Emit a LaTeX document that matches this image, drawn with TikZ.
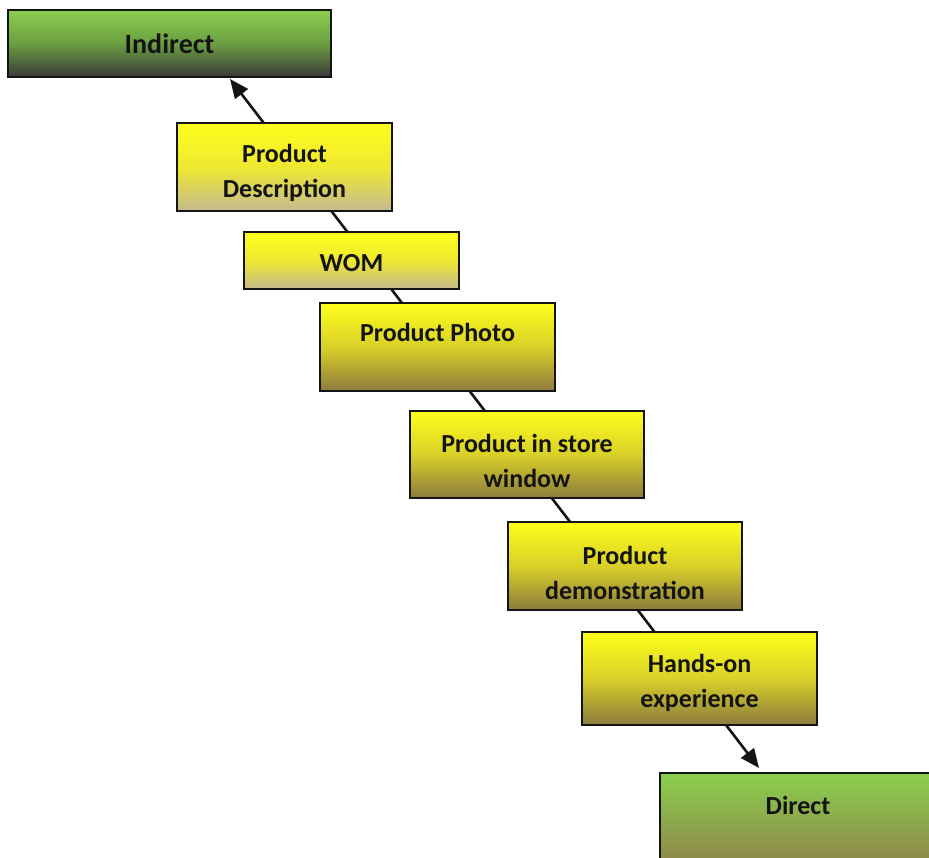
\documentclass[tikz,border=0pt]{standalone}
\usepackage{fontspec}
\setmainfont{Carlito}
\usetikzlibrary{arrows.meta,backgrounds}

\definecolor{inkdark}{HTML}{141414}
\definecolor{boxyellow}{HTML}{FFFF1C}
\definecolor{yellowmid}{HTML}{EEE830}
\definecolor{tanpale}{HTML}{C4BA90}
\definecolor{olive}{HTML}{8C7B3E}
\definecolor{olivemid}{HTML}{D9D028}
\definecolor{leafgreen}{HTML}{8BCF4E}
\definecolor{greenmid}{HTML}{6B9E42}
\definecolor{greendark}{HTML}{3A3A3A}
\definecolor{greenolive}{HTML}{8F7F4A}

\tikzset{
  boxbase/.style={draw=inkdark, line width=2pt, rectangle, inner sep=0pt},
  palebox/.style={boxbase, top color=boxyellow, bottom color=tanpale, middle color=yellowmid},
  olivebox/.style={boxbase, top color=boxyellow, bottom color=olive, middle color=olivemid},
  boxtext/.style={text=inkdark, inner sep=0pt, align=center,
    font=\bfseries\fontsize{26}{35}\selectfont},
  axisline/.style={line width=2.6pt, draw=inkdark,
    {Triangle[length=19pt,width=16pt]}-{Triangle[length=19pt,width=16pt]}}
}

\begin{document}
\begin{tikzpicture}[x=1pt,y=-1pt]
  \useasboundingbox (0,0) rectangle (929,858);

  % end points of the scale
  \node[boxbase, top color=leafgreen, bottom color=greendark, middle color=greenmid,
        minimum width=323pt, minimum height=67pt] (ind) at (169.5,43.5) {};
  \node[boxtext, font=\bfseries\fontsize{28}{35}\selectfont] (indtext) at (ind.center) {Indirect};
  \node[boxbase, top color=leafgreen, bottom color=greenolive,
        minimum width=280pt, minimum height=100pt] (dir) at (800,823) {};
  \node[boxtext] (dirtext) at (798,805) {Direct};

  % steps between them
  \node[palebox, minimum width=215pt, minimum height=88pt] (desc) at (284.5,167) {};
  \node[boxtext] (desctext) at (284.5,173) {Product\\Description};
  \node[palebox, minimum width=215pt, minimum height=57pt] (wom) at (351.5,260.5) {};
  \node[boxtext] (womtext) at (351.5,263.5) {WOM};
  \node[olivebox, minimum width=235pt, minimum height=88pt] (photo) at (437.5,347) {};
  \node[boxtext] (phototext) at (437.5,332) {Product Photo};
  \node[olivebox, minimum width=234pt, minimum height=87pt] (store) at (527,454.5) {};
  \node[boxtext] (storetext) at (527,461) {Product in store\\window};
  \node[olivebox, minimum width=234pt, minimum height=88pt] (demo) at (625,566) {};
  \node[boxtext] (demotext) at (625,573) {Product\\demonstration};
  \node[olivebox, minimum width=235pt, minimum height=93pt] (hands) at (699.5,678.5) {};
  \node[boxtext] (handstext) at (699.5,683) {Hands-on\\experience};

  % the scale runs behind all boxes
  \coordinate (scaletop) at (230,79);
  \coordinate (scalebot) at (759,768);
  \begin{scope}[on background layer]
    \draw[axisline] (scaletop) -- (scalebot);
  \end{scope}
\end{tikzpicture}
\end{document}
